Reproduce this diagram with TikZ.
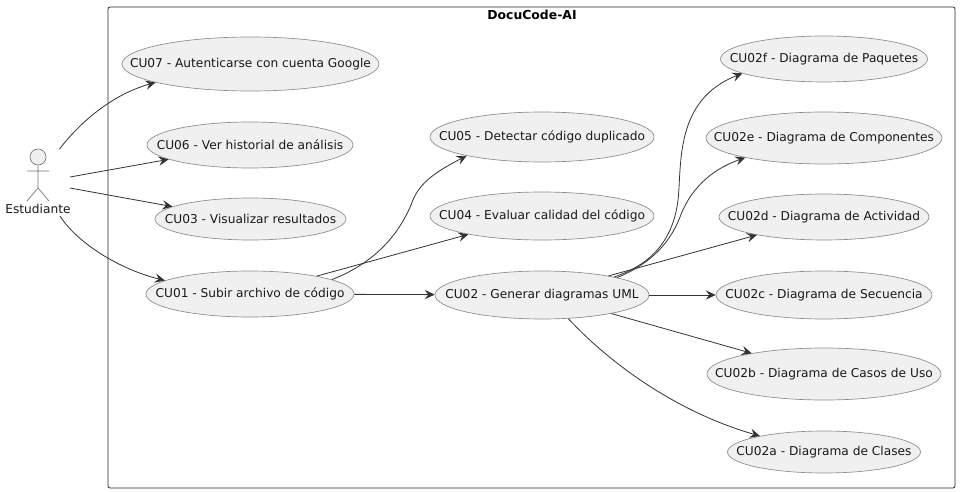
\documentclass[tikz,border=0pt]{standalone}
\usepackage{fontspec}
\setmainfont{DejaVu Sans}
\usetikzlibrary{shapes.geometric,arrows.meta}
\newcommand\uctext[1]{\makebox[0pt]{#1}}
\tikzset{
  usecase/.style={ellipse,draw=black!45,fill=black!6,line width=0.5pt,inner sep=0pt},
  conn/.style={draw=black!80,line width=0.6pt,-{Stealth[length=7.5pt,width=7pt,inset=2.8pt]}},
  actorline/.style={draw=black!55,line width=0.5pt},
  lbl/.style={font=\fontsize{9.15pt}{11pt}\selectfont,text=black!90}
}
\begin{document}
\begin{tikzpicture}[x=0.75pt,y=-0.75pt]
\useasboundingbox (0,0) rectangle (960,492);
\fill[white] (0,0) rectangle (960,492);
\node[draw=black!85,line width=0.6pt,rounded corners=1.5pt,minimum width=635.25pt,minimum height=360.75pt,inner sep=0pt] (frame) at (531.5,247.5) {};
\node[font=\fontsize{9.3pt}{11pt}\selectfont\bfseries] (title) at (532,15) {DocuCode-AI};

\newcommand\uc[6]{\node[usecase,lbl,minimum width=#4*1.5pt,minimum height=#5*1.5pt] (#1) at (#2,#3) {\uctext{#6}};}
\uc{cuseven}{250.5}{64}{128.5}{27}{CU07 - Autenticarse con cuenta Google}
\uc{cusix}{250}{145}{103}{23}{CU06 - Ver historial de análisis}
\uc{cuthree}{250.5}{219}{95.5}{21}{CU03 - Visualizar resultados}
\uc{cuone}{250}{294}{104}{23}{CU01 - Subir archivo de código}
\uc{cufive}{542}{137}{112}{25}{CU05 - Detectar código duplicado}
\uc{cufour}{542}{216}{112}{24}{CU04 - Evaluar calidad del código}
\uc{cutwo}{542}{295}{107}{24}{CU02 - Generar diagramas UML}
\uc{cutwof}{824}{59}{103.5}{23}{CU02f - Diagrama de Paquetes}
\uc{cutwoe}{824}{138}{118}{26}{CU02e - Diagrama de Componentes}
\uc{cutwod}{824}{217}{105}{23}{CU02d - Diagrama de Actividad}
\uc{cutwoc}{824}{295}{108}{24}{CU02c - Diagrama de Secuencia}
\uc{cutwob}{824}{374}{117}{26}{CU02b - Diagrama de Casos de Uso}
\uc{cutwoa}{824}{452}{96.5}{21}{CU02a - Diagrama de Clases}

% actor
\node[circle,draw=black!55,fill=black!6,line width=0.5pt,minimum size=12pt,inner sep=0pt] (head) at (38,157) {};
\coordinate (hip) at (38,188);
\coordinate (larm) at (27,171);
\coordinate (rarm) at (49,171);
\coordinate (lfoot) at (27,201);
\coordinate (rfoot) at (49,201);
\draw[actorline] (head.south) -- (hip) (larm) -- (rarm) (lfoot) -- (hip) -- (rfoot);
\node[lbl] (actor) at (38,209) {Estudiante};

\coordinate (a1) at (59.5,149);
\coordinate (a2) at (70,177);
\coordinate (a3) at (70,188);
\coordinate (a4) at (60,216);
\coordinate (mf) at (678,200);
\coordinate (me) at (680,217);
\coordinate (mv) at (413,200);

\draw[conn] (a1) .. controls (78,125) and (110,95) .. (cuseven.191);
\draw[conn] (a2) -- (cusix.190);
\draw[conn] (a3) -- (cuthree.171);
\draw[conn] (a4) .. controls (75,240) and (115,268) .. (cuone.171);
\draw[conn] (cuone.10) .. controls (362,268) and (396,245) .. (mv) .. controls (420,183) and (435,172) .. (cufive.194.4);
\draw[conn] (cuone.15) -- (cufour.194.8);
\draw[conn] (cuone) -- (cutwo);
\draw[conn] (cutwo.14) .. controls (640,268) and (672,250) .. (mf) .. controls (682,165) and (674,100) .. (cutwof.190);
\draw[conn] (cutwo.13.5) .. controls (645,266) and (668,248) .. (me) .. controls (690,190) and (710,170) .. (cutwoe.194);
\draw[conn] (cutwo.16.8) -- (cutwod.195);
\draw[conn] (cutwo) -- (cutwoc);
\draw[conn] (cutwo.-15) -- (cutwob.164.5);
\draw[conn] (cutwo.-42.6) .. controls (605,358) and (670,410) .. (cutwoa.166);
\end{tikzpicture}
\end{document}
